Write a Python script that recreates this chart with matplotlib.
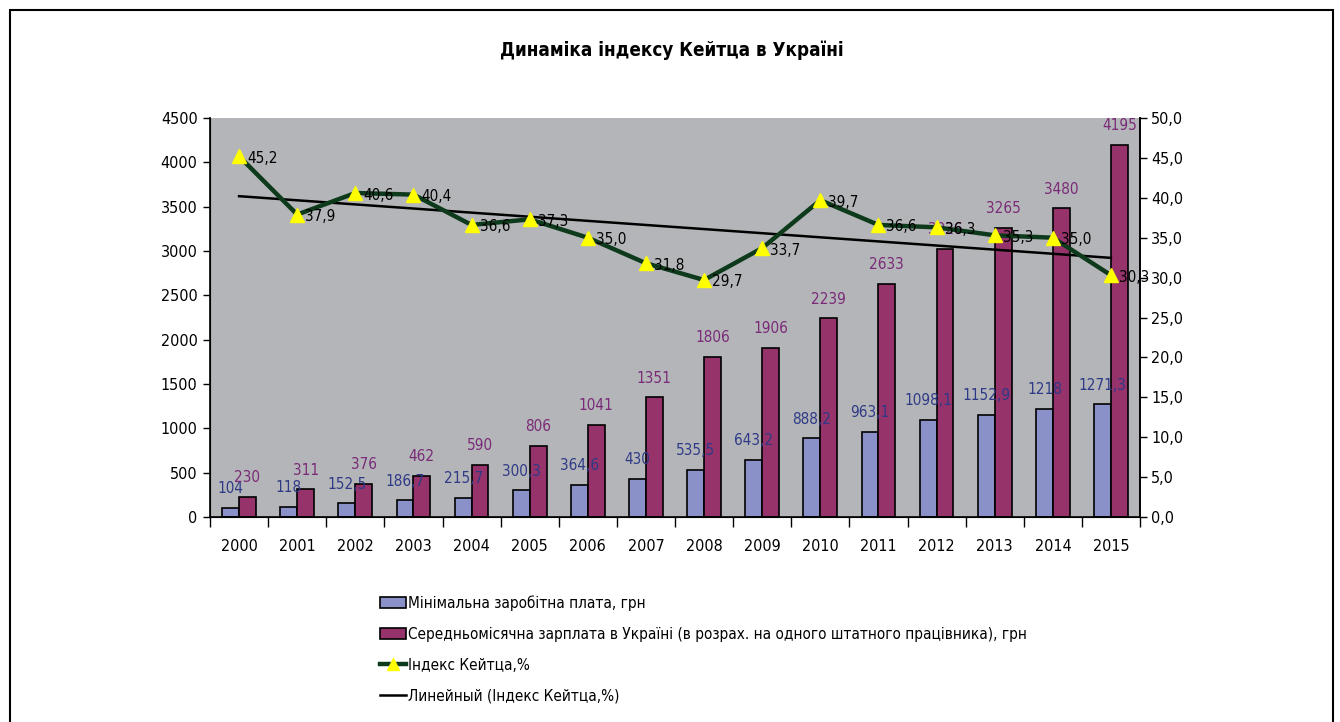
import matplotlib.pyplot as plt
from matplotlib.patches import Patch, Rectangle
from matplotlib.lines import Line2D
from matplotlib.ticker import FuncFormatter
import numpy as np

plt.rcParams['font.family'] = ['DejaVu Sans']
plt.rcParams['font.stretch'] = 'condensed'

years = ["2000", "2001", "2002", "2003", "2004", "2005", "2006", "2007",
         "2008", "2009", "2010", "2011", "2012", "2013", "2014", "2015"]
min_wage = [104, 118, 152.5, 186.7, 215.7, 300.3, 364.6, 430,
            535.5, 643.2, 888.2, 963.1, 1098.1, 1152.9, 1218, 1271.3]
min_wage_labels = ["104", "118", "152,5", "186,7", "215,7", "300,3", "364,6", "430",
                   "535,5", "643,2", "888,2", "963,1", "1098,1", "1152,9", "1218", "1271,3"]
avg_wage = [230, 311, 376, 462, 590, 806, 1041, 1351,
            1806, 1906, 2239, 2633, 3026, 3265, 3480, 4195]
kaitz = [45.2, 37.9, 40.6, 40.4, 36.6, 37.3, 35.0, 31.8,
         29.7, 33.7, 39.7, 36.6, 36.3, 35.3, 35.0, 30.3]

blue = "#8A90C8"
purple = "#95336A"
green = "#0E3A1C"
bg = "#B4B5B8"

fig = plt.figure(figsize=(13.4, 7.22), dpi=100)
fig.patches.append(Rectangle((10 / 1340, -0.1), 1323 / 1340, 1.1 - 10 / 722,
                             transform=fig.transFigure, fill=False,
                             edgecolor="black", linewidth=1.5))

ax = fig.add_axes([210 / 1340, 1 - 517 / 722, 930 / 1340, 399 / 722])
ax.set_facecolor(bg)
x = np.arange(len(years))
w = 0.29
ax.bar(x - w / 2, min_wage, w, color=blue, edgecolor="black", linewidth=1.2)
ax.bar(x + w / 2, avg_wage, w, color=purple, edgecolor="black", linewidth=1.2)

for xi, v, lab in zip(x, min_wage, min_wage_labels):
    ax.text(xi - w / 2, v + 215, lab, ha="center", va="center",
            fontsize=11, color="#2E3A87")
for xi, v in zip(x, avg_wage):
    ax.text(xi + w / 2, v + 215, str(v), ha="center", va="center",
            fontsize=11, color="#7A2A78")

ax.set_xlim(-0.5, len(years) - 0.5)
ax.set_ylim(0, 4500)
ax.set_yticks(np.arange(0, 4501, 500))
ax.set_xticks(x)
ax.set_xticklabels(years)
ax.set_xticks(np.arange(-0.5, len(years), 1), minor=True)
ax.tick_params(axis="x", which="major", length=0, pad=16, labelsize=11.5)
ax.tick_params(axis="x", which="minor", length=7, width=1, color="black")
ax.tick_params(axis="y", length=5, width=1, pad=4, labelsize=11.5)
ax.spines["top"].set_visible(False)
for s in ["left", "bottom", "right"]:
    ax.spines[s].set_linewidth(1.2)

ax2 = ax.twinx()
ax2.plot(x, kaitz, color=green, linewidth=3.2, marker="^", markersize=10,
         markerfacecolor="#FFFF00", markeredgecolor="#FFFF00", zorder=3)
coef = np.polyfit(x, kaitz, 1)
ax2.plot(x, np.polyval(coef, x), color="black", linewidth=1.8, zorder=2)
for xi, v in zip(x, kaitz):
    ax2.annotate(f"{v:.1f}".replace(".", ","), (xi, v), xytext=(8, -2),
                 textcoords="offset pixels", ha="left", va="center",
                 fontsize=11, color="black")
ax2.set_ylim(0, 50)
ax2.set_yticks(np.arange(0, 50.1, 5))
ax2.yaxis.set_major_formatter(FuncFormatter(lambda v, p: f"{v:.1f}".replace(".", ",")))
ax2.tick_params(axis="y", length=5, width=1, pad=3, labelsize=11.5)
ax2.spines["top"].set_visible(False)
ax2.spines["right"].set_linewidth(1.2)

fig.text(672 / 1340, 1 - 50 / 722, "Динаміка індексу Кейтца в Україні",
         ha="center", va="center", fontsize=13.5, fontweight="bold")

handles = [
    Patch(facecolor=blue, edgecolor="black", linewidth=1.2),
    Patch(facecolor=purple, edgecolor="black", linewidth=1.2),
    Line2D([], [], color=green, linewidth=3.2, marker="^", markersize=9,
           markerfacecolor="#FFFF00", markeredgecolor="#FFFF00"),
    Line2D([], [], color="black", linewidth=1.8),
]
labels = [
    "Мінімальна заробітна плата, грн",
    "Середньомісячна зарплата в Україні (в розрах. на одного штатного працівника), грн",
    "Індекс Кейтца,%",
    "Линейный (Індекс Кейтца,%)",
]
fig.legend(handles, labels, loc="upper left",
           bbox_to_anchor=(374 / 1340, 1 - 589 / 722), frameon=False,
           fontsize=11, handlelength=1.7, handleheight=0.8, handletextpad=0.1,
           labelspacing=1.04, borderaxespad=0)

fig.savefig("out.png", dpi=100)
